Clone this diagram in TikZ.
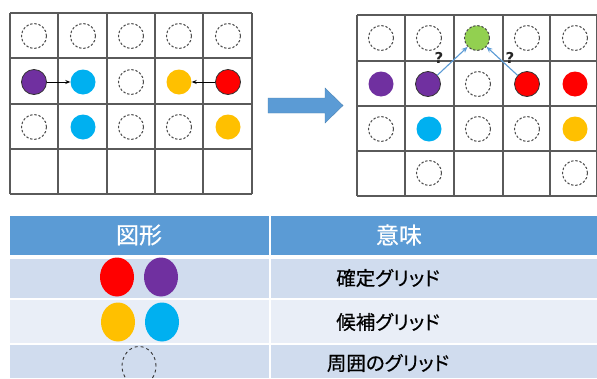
\documentclass[tikz,border=0pt]{standalone}
\usepackage{fontspec}
\newfontfamily\jpb[FakeBold=0.5,RawFeature={+palt}]{Noto Sans CJK JP}
\newfontfamily\qfont{DejaVu Sans}
\usetikzlibrary{shapes.geometric,arrows.meta}
\definecolor{cpurple}{HTML}{7030A0}
\definecolor{ccyan}{HTML}{00B0F0}
\definecolor{cyellow}{HTML}{FFC000}
\definecolor{cred}{HTML}{FF0000}
\definecolor{cgreen}{HTML}{92D050}
\definecolor{hdrblue}{HTML}{5B9BD5}
\definecolor{rowdark}{HTML}{D0DCEE}
\definecolor{rowlight}{HTML}{E9EEF7}
\definecolor{gridgray}{HTML}{5A5A5A}
\tikzset{
  gridline/.style={draw=gridgray, line width=1.3pt},
  dot/.style={circle, minimum size=25pt, inner sep=0pt},
  sur/.style={dot, draw=black!70, dashed, dash pattern=on 2.4pt off 1.8pt, line width=1pt},
  fixd/.style={dot, fill=#1, draw=black!80, line width=0.8pt},
  cand/.style={dot, fill=#1},
  legdot/.style={ellipse, minimum width=34pt, minimum height=39pt, inner sep=0pt, fill=#1},
  hdrtext/.style={font=\jpb\fontsize{23}{25}\selectfont, text=white},
  bodytext/.style={font=\jpb\fontsize{19.5}{21}\selectfont, text=black},
  blk/.style={-{Stealth[length=5pt,width=4pt]}, line width=0.9pt, black},
  blu/.style={-{Stealth[length=6pt,width=5pt]}, line width=1.1pt, hdrblue},
  qm/.style={font=\qfont\bfseries\fontsize{15}{15}\selectfont, text=black!85}
}
\begin{document}
\begin{tikzpicture}[x=1pt,y=-1pt]
\useasboundingbox (0,0) rectangle (597,378);
\fill[white] (0,0) rectangle (597,378);

% ---------- left grid ----------
\foreach \x in {10,58,107,155,203,252} \draw[gridline] (\x,13) -- (\x,194);
\foreach \y in {13,58,104,149,194} \draw[gridline] (10,\y) -- (252,\y);

\foreach \x/\n in {34/a,83/b,131/c,179/d,228/e} \node[sur] (L0\n) at (\x,36) {};
\node[fixd=cpurple] (L1a) at (34,82) {};
\node[cand=ccyan] (L1b) at (83,82) {};
\node[sur] (L1c) at (131,82) {};
\node[cand=cyellow] (L1d) at (179,82) {};
\node[fixd=cred] (L1e) at (228,82) {};
\node[sur] (L2a) at (34,127) {};
\node[cand=ccyan] (L2b) at (83,127) {};
\node[sur] (L2c) at (131,127) {};
\node[sur] (L2d) at (179,127) {};
\node[cand=cyellow] (L2e) at (228,127) {};
\draw[blk] (L1a) -- (L1b);
\draw[blk] (L1e) -- (L1d);

% ---------- big arrow ----------
\fill[hdrblue, draw=hdrblue!85!black, line width=0.4pt]
  (268,98) -- (325,98) -- (325,88) -- (343,105.5) -- (325,123) -- (325,113) -- (268,113) -- cycle;

% ---------- right grid ----------
\foreach \x in {357,405,454,503,550,597} \draw[gridline] (\x,15) -- (\x,196);
\foreach \y in {15,61,106,151,196} \draw[gridline] (357,\y) -- (597,\y);

\node[sur] (R0a) at (381,38) {};
\node[sur] (R0b) at (429,38) {};
\node[sur, fill=cgreen] (R0c) at (477,38) {};
\node[sur] (R0d) at (527,38) {};
\node[sur] (R0e) at (575,38) {};
\node[cand=cpurple] (R1a) at (381,84) {};
\node[fixd=cpurple] (R1b) at (428,84) {};
\node[sur] (R1c) at (478,84) {};
\node[fixd=cred] (R1d) at (527,84) {};
\node[cand=cred] (R1e) at (575,84) {};
\node[sur] (R2a) at (381,129) {};
\node[cand=ccyan] (R2b) at (429,129) {};
\node[sur] (R2c) at (478,129) {};
\node[sur] (R2d) at (527,129) {};
\node[cand=cyellow] (R2e) at (575,129) {};
\node[sur] (R3b) at (429,173) {};
\node[sur] (R3e) at (575,173) {};
\draw[blu] (R1b) -- (R0c);
\draw[blu] (R1d) -- (R0c);
\node[qm] (q1) at (439,58) {?};
\node[qm] (q2) at (510,58) {?};

% ---------- table ----------
\fill[hdrblue] (10,216) rectangle (597,255);
\fill[rowdark] (10,259) rectangle (597,298);
\fill[rowlight] (10,300) rectangle (597,343);
\fill[rowdark] (10,345) rectangle (597,378);
\draw[white, line width=1.5pt] (270,216) -- (270,378);

\node[hdrtext] (h1) at (139,235) {図形};
\node[hdrtext] (h2) at (399,235) {意味};

\node[legdot=cred] (e1) at (117,277) {};
\node[legdot=cpurple] (e2) at (161,277) {};
\node[legdot=cyellow] (e3) at (118,322) {};
\node[legdot=ccyan] (e4) at (162,322) {};
\node[ellipse, minimum width=34pt, minimum height=39pt, inner sep=0pt, draw=black!80, dashed, dash pattern=on 3pt off 3pt, line width=0.9pt] (e5) at (139,366) {};

\node[bodytext] (t1) at (388,278) {確定グリッド};
\node[bodytext] (t2) at (388,322) {候補グリッド};
\node[bodytext] (t3) at (388,363) {周囲のグリッド};
\end{tikzpicture}
\end{document}
